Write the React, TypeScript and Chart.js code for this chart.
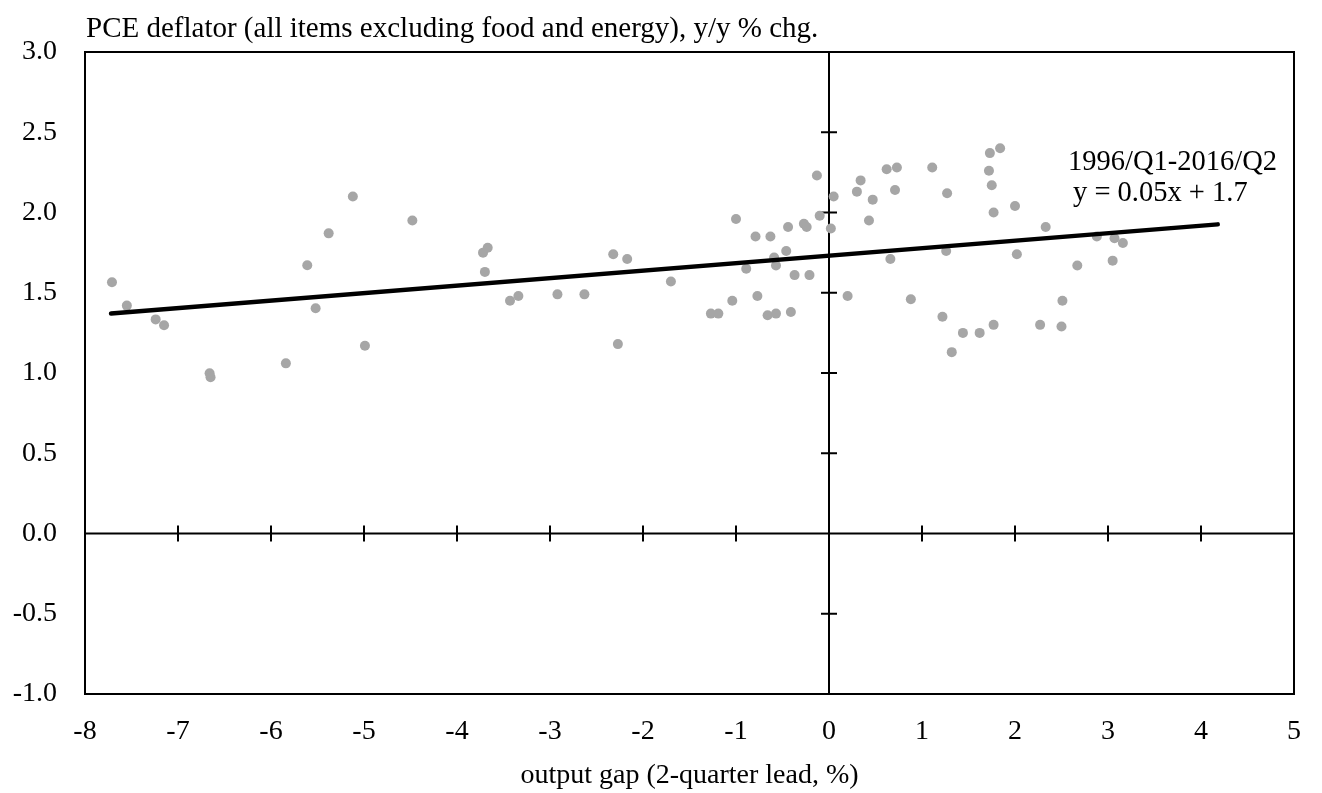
import React, { useEffect, useRef } from "react";
import { Chart, registerables } from "chart.js";

Chart.register(...registerables);

const outputGap: number[] = [
  -7.71, -7.55, -7.24, -7.15, -6.66, -6.65, -5.84, -5.61, -5.52,
  -5.38, -5.12, -4.99, -4.48, -3.72, -3.67, -3.70, -3.43, -3.34, -2.92, -2.63, -2.32, -2.27, -2.17, -1.70,
  -0.13, -1.0, -0.10, 0.02, -0.79, -0.63, -0.44, -0.27, -0.24, -0.46, -0.59, -0.57, -0.89, -0.37, -0.21,
  -0.77, -1.04, -1.27, -1.19, -0.66, -0.57, -0.41, 0.05,
  0.20, 0.30, 0.34, 0.47, 0.43, 0.62, 0.73, 0.71, 0.66, 0.88, 1.11, 1.27, 1.26, 1.22, 1.44, 1.62, 1.32,
  1.72, 1.73, 1.75, 1.84, 1.77, 1.77, 2.00, 2.02,
  2.27, 2.33, 2.50, 2.51, 2.67, 2.88, 3.07, 3.16, 3.05,
];

const pceCore: number[] = [
  1.565, 1.42, 1.334, 1.297, 0.998, 0.973, 1.06, 1.671, 1.403,
  1.87, 2.10, 1.17, 1.95, 1.75, 1.78, 1.63, 1.45, 1.48, 1.49, 1.49, 1.74, 1.18, 1.71, 1.57,
  2.23, 1.96, 1.98, 1.90, 1.85, 1.85, 1.91, 1.93, 1.91, 1.76, 1.72, 1.67, 1.65, 1.61, 1.61,
  1.48, 1.45, 1.37, 1.37, 1.36, 1.37, 1.38, 2.10,
  1.48, 2.13, 2.20, 2.08, 1.95, 2.27, 2.28, 2.14, 1.71, 1.46, 2.28, 2.12, 1.76, 1.35, 1.25, 1.25, 1.13,
  2.26, 2.37, 2.17, 2.40, 2.00, 1.30, 2.04, 1.74,
  1.30, 1.91, 1.29, 1.45, 1.67, 1.85, 1.84, 1.81, 1.70,
];

const trendX: number[] = [-7.72, 4.18];
const trendY: number[] = [1.371, 1.926];

const xTicks = { min: -8, max: 5, step: 1 };
const yTicks = { min: -1, max: 3, step: 0.5 };

const yAxisTitle = "PCE deflator (all items excluding food and energy), y/y % chg.";
const xAxisTitle = "output gap (2-quarter lead, %)";
const periodLabel = "1996/Q1-2016/Q2";
const equationLabel = "y = 0.05x + 1.7";

const FONT = "'Liberation Serif', 'Times New Roman', serif";

export default function App() {
  const ref = useRef<HTMLCanvasElement | null>(null);

  useEffect(() => {
    if (!ref.current) return;

    const framePlugin = {
      id: "frame",
      beforeDatasetsDraw(chart: any) {
        const { ctx, chartArea: a, scales } = chart;
        const xs = scales.x;
        const ys = scales.y;
        const x0 = xs.getPixelForValue(0);
        const y0 = ys.getPixelForValue(0);
        ctx.save();
        ctx.strokeStyle = "#000";
        ctx.lineWidth = 2;
        ctx.strokeRect(a.left, a.top, a.right - a.left, a.bottom - a.top);
        ctx.beginPath();
        ctx.moveTo(a.left, y0);
        ctx.lineTo(a.right, y0);
        ctx.moveTo(x0, a.top);
        ctx.lineTo(x0, a.bottom);
        for (let v = xTicks.min + 1; v < xTicks.max; v += xTicks.step) {
          if (v === 0) continue;
          const px = xs.getPixelForValue(v);
          ctx.moveTo(px, y0 - 8);
          ctx.lineTo(px, y0 + 8);
        }
        for (let v = yTicks.min + yTicks.step; v < yTicks.max - 1e-9; v += yTicks.step) {
          if (Math.abs(v) < 1e-9) continue;
          const py = ys.getPixelForValue(v);
          ctx.moveTo(x0 - 8, py);
          ctx.lineTo(x0 + 8, py);
        }
        ctx.stroke();
        ctx.restore();
      },
      afterDraw(chart: any) {
        const { ctx, chartArea: a } = chart;
        ctx.save();
        ctx.fillStyle = "#000";
        ctx.font = `29px ${FONT}`;
        ctx.textBaseline = "alphabetic";
        ctx.textAlign = "left";
        ctx.fillText(yAxisTitle, a.left + 1, a.top - 15);
        ctx.font = `28.5px ${FONT}`;
        ctx.textBaseline = "middle";
        ctx.fillText(periodLabel, a.right - 226, a.top + 111);
        ctx.fillText(equationLabel, a.right - 221, a.top + 142);
        ctx.restore();
      },
    };

    const chart = new Chart(ref.current, {
      type: "scatter",
      data: {
        datasets: [
          {
            type: "scatter",
            data: outputGap.map((x, i) => ({ x, y: pceCore[i] })),
            backgroundColor: "#A6A6A6",
            borderWidth: 0,
            pointRadius: 5,
            order: 2,
          },
          {
            type: "line",
            data: trendX.map((x, i) => ({ x, y: trendY[i] })),
            borderColor: "#000",
            borderWidth: 4.5,
            borderCapStyle: "round",
            pointRadius: 0,
            fill: false,
            order: 1,
          } as any,
        ],
      },
      options: {
        animation: false,
        responsive: false,
        devicePixelRatio: 1,
        layout: { padding: { top: 52, right: 9, left: 0, bottom: 0 } },
        plugins: { legend: { display: false }, tooltip: { enabled: false } },
        scales: {
          x: {
            type: "linear",
            min: xTicks.min,
            max: xTicks.max,
            grid: { display: false, drawTicks: false },
            border: { display: false },
            ticks: {
              stepSize: xTicks.step,
              color: "#000",
              font: { family: FONT, size: 28 },
              padding: 21,
              maxRotation: 0,
            },
            title: {
              display: true,
              text: xAxisTitle,
              color: "#000",
              font: { family: FONT, size: 28 },
              padding: { top: 0, bottom: 1 },
            },
            afterFit(scale: any) {
              scale.height = 99;
            },
          },
          y: {
            type: "linear",
            min: yTicks.min,
            max: yTicks.max,
            grid: { display: false, drawTicks: false },
            border: { display: false },
            ticks: {
              stepSize: yTicks.step,
              color: "#000",
              font: { family: FONT, size: 28 },
              padding: 28,
              callback: (v: any) => Number(v).toFixed(1),
            },
            afterFit(scale: any) {
              scale.width = 85;
            },
          },
        },
      },
      plugins: [framePlugin],
    });

    return () => chart.destroy();
  }, []);

  return (
    <div style={{ position: "fixed", left: 0, top: 0, width: 1322, height: 793, background: "#fff" }}>
      <canvas ref={ref} width={1322} height={793} style={{ display: "block" }} />
    </div>
  );
}
